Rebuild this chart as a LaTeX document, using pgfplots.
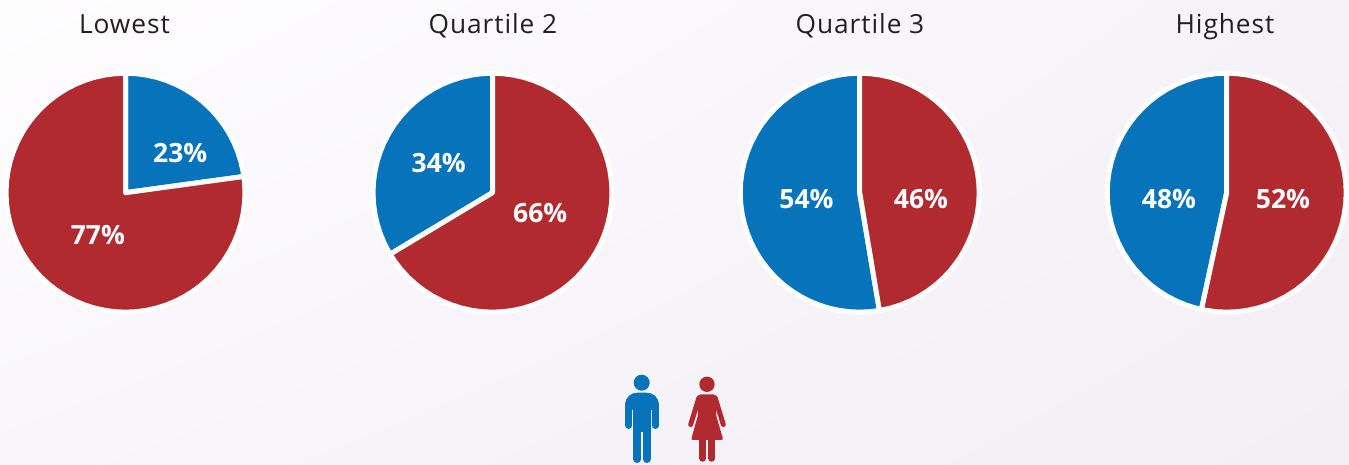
\documentclass[border=0pt]{standalone}
\usepackage{fontspec}
\setmainfont{Open Sans}
\usepackage{pgfplots}
\pgfplotsset{compat=1.18}
\usepgfplotslibrary{polar}
\usetikzlibrary{shadings}
\definecolor{pblue}{HTML}{0673BA}
\definecolor{pred}{HTML}{B02A30}
\definecolor{ttl}{HTML}{231F20}
\definecolor{bgtl}{HTML}{FEFDFE}
\definecolor{bgtr}{HTML}{F6F3F8}
\definecolor{bgbl}{HTML}{F8F6FA}
\definecolor{bgbr}{HTML}{F2EFF5}
\newcommand{\lab}[3]{\node[text=white,font=\fontsize{26.5}{30}\selectfont\bfseries,inner sep=0pt,yshift=-0.4pt] at (axis cs:#1,#2) {#3\%};}
\newcommand{\ttlnode}[2]{\node[text=ttl,anchor=base,inner sep=0pt,font=\fontsize{26.3}{30}\selectfont\addfontfeature{LetterSpace=3.5}] at (#1,431) {#2};}
\pgfplotsset{pie/.style={scale only axis,width=250pt,height=250pt,xmin=-124.5,xmax=124.5,ymin=-124.5,ymax=124.5,hide axis,clip=false,anchor=center},
 wedge/.style={data cs=polar,draw=white,line width=5pt,line join=round,forget plot}}
\begin{document}
\begin{tikzpicture}[x=1pt,y=1pt]
\shade[upper left=bgtl,upper right=bgtr,lower left=bgbl,lower right=bgbr] (0,0) rectangle (1349,465);
\ttlnode{124.5}{Lowest}
\ttlnode{493}{Quartile 2}
\ttlnode{860}{Quartile 3}
\ttlnode{1225}{Highest}
% Lowest
\begin{axis}[pie,at={(125.5pt,272.3pt)}]
\addplot[wedge,fill=pblue] coordinates {(0,0) (90,119) (85,119) (80,119) (75,119) (70,119) (65,119) (60,119) (55,119) (50,119) (45,119) (40,119) (35,119) (30,119) (25,119) (20,119) (15,119) (10,119) (7.8,119)} -- cycle;
\addplot[wedge,fill=pred] coordinates {(0,0) (7.8,119) (5,119) (0,119) (-5,119) (-10,119) (-15,119) (-20,119) (-25,119) (-30,119) (-35,119) (-40,119) (-45,119) (-50,119) (-55,119) (-60,119) (-65,119) (-70,119) (-75,119) (-80,119) (-85,119) (-90,119) (-95,119) (-100,119) (-105,119) (-110,119) (-115,119) (-120,119) (-125,119) (-130,119) (-135,119) (-140,119) (-145,119) (-150,119) (-155,119) (-160,119) (-165,119) (-170,119) (-175,119) (-180,119) (-185,119) (-190,119) (-195,119) (-200,119) (-205,119) (-210,119) (-215,119) (-220,119) (-225,119) (-230,119) (-235,119) (-240,119) (-245,119) (-250,119) (-255,119) (-260,119) (-265,119) (-270,119)} -- cycle;
\lab{54.5}{40}{23}
\lab{-27.5}{-42}{77}
\end{axis}
% Quartile 2
\begin{axis}[pie,at={(492.5pt,272.3pt)}]
\addplot[wedge,fill=pblue] coordinates {(0,0) (90,119) (95,119) (100,119) (105,119) (110,119) (115,119) (120,119) (125,119) (130,119) (135,119) (140,119) (145,119) (150,119) (155,119) (160,119) (165,119) (170,119) (175,119) (180,119) (185,119) (190,119) (195,119) (200,119) (205,119) (210,119) (211,119)} -- cycle;
\addplot[wedge,fill=pred] coordinates {(0,0) (211,119) (215,119) (220,119) (225,119) (230,119) (235,119) (240,119) (245,119) (250,119) (255,119) (260,119) (265,119) (270,119) (275,119) (280,119) (285,119) (290,119) (295,119) (300,119) (305,119) (310,119) (315,119) (320,119) (325,119) (330,119) (335,119) (340,119) (345,119) (350,119) (355,119) (360,119) (365,119) (370,119) (375,119) (380,119) (385,119) (390,119) (395,119) (400,119) (405,119) (410,119) (415,119) (420,119) (425,119) (430,119) (435,119) (440,119) (445,119) (450,119)} -- cycle;
\lab{-53.5}{29.5}{34}
\lab{47.5}{-20}{66}
\end{axis}
% Quartile 3
\begin{axis}[pie,at={(859.7pt,272.3pt)}]
\addplot[wedge,fill=pblue] coordinates {(0,0) (90,119) (95,119) (100,119) (105,119) (110,119) (115,119) (120,119) (125,119) (130,119) (135,119) (140,119) (145,119) (150,119) (155,119) (160,119) (165,119) (170,119) (175,119) (180,119) (185,119) (190,119) (195,119) (200,119) (205,119) (210,119) (215,119) (220,119) (225,119) (230,119) (235,119) (240,119) (245,119) (250,119) (255,119) (260,119) (265,119) (270,119) (275,119) (279.5,119)} -- cycle;
\addplot[wedge,fill=pred] coordinates {(0,0) (279.5,119) (285,119) (290,119) (295,119) (300,119) (305,119) (310,119) (315,119) (320,119) (325,119) (330,119) (335,119) (340,119) (345,119) (350,119) (355,119) (360,119) (365,119) (370,119) (375,119) (380,119) (385,119) (390,119) (395,119) (400,119) (405,119) (410,119) (415,119) (420,119) (425,119) (430,119) (435,119) (440,119) (445,119) (450,119)} -- cycle;
\lab{-53}{-6}{54}
\lab{61}{-6}{46}
\end{axis}
% Highest
\begin{axis}[pie,at={(1226.7pt,272.3pt)}]
\addplot[wedge,fill=pblue] coordinates {(0,0) (90,119) (95,119) (100,119) (105,119) (110,119) (115,119) (120,119) (125,119) (130,119) (135,119) (140,119) (145,119) (150,119) (155,119) (160,119) (165,119) (170,119) (175,119) (180,119) (185,119) (190,119) (195,119) (200,119) (205,119) (210,119) (215,119) (220,119) (225,119) (230,119) (235,119) (240,119) (245,119) (250,119) (255,119) (257.8,119)} -- cycle;
\addplot[wedge,fill=pred] coordinates {(0,0) (257.8,119) (260,119) (265,119) (270,119) (275,119) (280,119) (285,119) (290,119) (295,119) (300,119) (305,119) (310,119) (315,119) (320,119) (325,119) (330,119) (335,119) (340,119) (345,119) (350,119) (355,119) (360,119) (365,119) (370,119) (375,119) (380,119) (385,119) (390,119) (395,119) (400,119) (405,119) (410,119) (415,119) (420,119) (425,119) (430,119) (435,119) (440,119) (445,119) (450,119)} -- cycle;
\lab{-57.5}{-6}{48}
\lab{56}{-6}{52}
\end{axis}
% Icons (pixel coordinates, y down)
\begin{scope}[x=1pt,y=-1pt,yshift=465pt]
 \fill[pblue] (641.7,382.7) circle[radius=8pt];
 \fill[pblue] (625.3,405) .. controls (625.3,396.5) and (631,392.7) .. (638,392.7) -- (646,392.7) .. controls (653,392.7) and (658.7,396.5) .. (658.7,405) -- (658.7,410) -- (651,410) -- (651,432) -- (633,432) -- (633,410) -- (625.3,410) -- cycle;
 \draw[pblue,line width=7pt,line cap=round] (628.8,404) -- (628.8,425.5);
 \draw[pblue,line width=7pt,line cap=round] (655.2,404) -- (655.2,425.5);
 \draw[pblue,line width=8pt,line cap=round] (637.3,425) -- (637.3,459);
 \draw[pblue,line width=8pt,line cap=round] (646.7,425) -- (646.7,459);
 \fill[pred] (707,384.3) circle[radius=7.7pt];
 \fill[pred,rounded corners=2pt] (699,394.3) -- (715,394.3) -- (717.5,397) -- (716,415) -- (723.3,440) -- (691,440) -- (698,415) -- (696.5,397) -- cycle;
 \draw[pred,line width=5pt,line cap=round] (698.8,398) -- (690.7,424.5);
 \draw[pred,line width=5pt,line cap=round] (715.2,398) -- (723.3,424.5);
 \draw[pred,line width=6.5pt,line cap=round] (702.7,438) -- (702.7,458.5);
 \draw[pred,line width=6.5pt,line cap=round] (711.7,438) -- (711.7,458.5);
\end{scope}
\end{tikzpicture}
\end{document}
